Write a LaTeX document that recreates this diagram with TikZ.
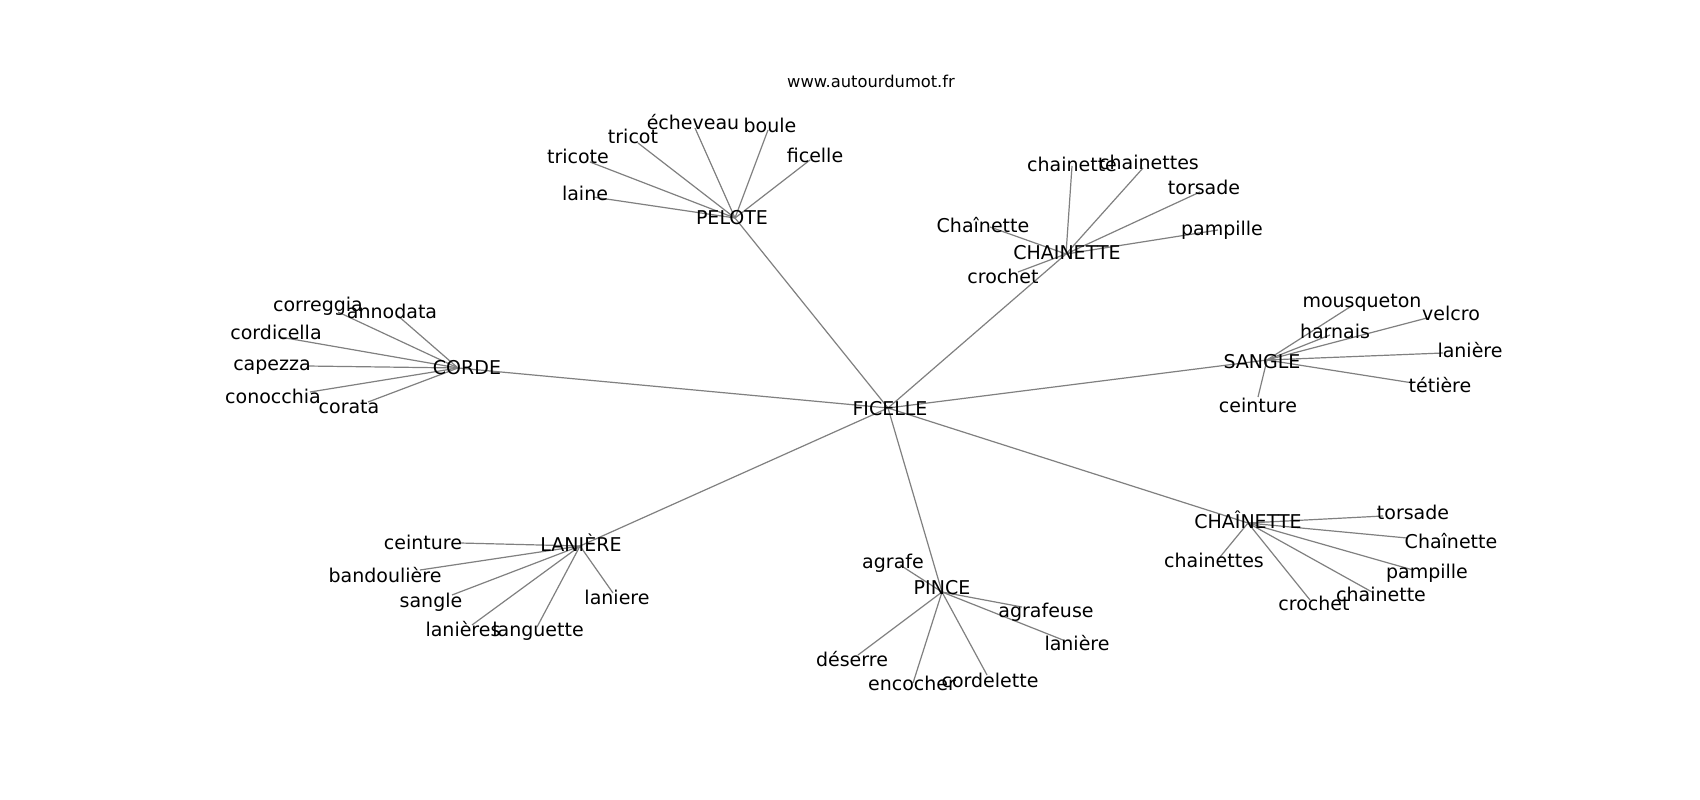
\documentclass[tikz,border=0pt]{standalone}
\usepackage{fontspec}
\setmainfont{DejaVu Sans}
\usetikzlibrary{backgrounds}
\tikzset{
  lbl/.style={font=\fontsize{19}{23}\selectfont, inner sep=0pt, anchor=base, text=black},
  ttl/.style={font=\fontsize{16.3}{20}\selectfont, inner sep=0pt, anchor=base, text=black},
  link/.style={draw=black!50, line width=1.2pt}
}
\begin{document}
\begin{tikzpicture}[x=1pt,y=-1pt]
\useasboundingbox (0,0) rectangle (1700,800);

\node[ttl] (title) at (871,88) {www.autourdumot.fr};

% hubs: line points and labels
\coordinate (cFic) at (888,408);   \node[lbl] (tFic) at (890,415) {FICELLE};
\coordinate (cPel) at (735,218);   \node[lbl] (tPel) at (732,224) {PELOTE};
\coordinate (cCha) at (1066,254);  \node[lbl] (tCha) at (1067,259) {CHAINETTE};
\coordinate (cCor) at (458,368);   \node[lbl] (tCor) at (467,374) {CORDE};
\coordinate (cSan) at (1267,360);  \node[lbl] (tSan) at (1262,368) {SANGLE};
\coordinate (cLan) at (580,546);   \node[lbl] (tLan) at (581,551) {LANIÈRE};
\coordinate (cPin) at (942,592);   \node[lbl] (tPin) at (942,594) {PINCE};
\coordinate (cChb) at (1248,523);  \node[lbl] (tChb) at (1248,528) {CHAÎNETTE};

% PELOTE leaves
\coordinate (pa) at (593,197); \node[lbl] (tpa) at (585,200) {laine};
\coordinate (pb) at (590,162); \node[lbl] (tpb) at (578,163) {tricote};
\coordinate (pc) at (638,143); \node[lbl] (tpc) at (633,143) {tricot};
\coordinate (pd) at (695,128); \node[lbl] (tpd) at (693,129) {écheveau};
\coordinate (pe) at (768,130); \node[lbl] (tpe) at (770,132) {boule};
\coordinate (pf) at (810,160); \node[lbl] (tpf) at (815,162) {ficelle};

% CHAINETTE leaves
\coordinate (ha) at (1072,166); \node[lbl] (tha) at (1072,171) {chainette};
\coordinate (hb) at (1143,168); \node[lbl] (thb) at (1149,169) {chainettes};
\coordinate (hc) at (1200,192); \node[lbl] (thc) at (1204,194) {torsade};
\coordinate (hd) at (1218,230); \node[lbl] (thd) at (1222,235) {pampille};
\coordinate (he) at (990,227);  \node[lbl] (the) at (983,232) {Chaînette};
\coordinate (hf) at (1018,272); \node[lbl] (thf) at (1003,283) {crochet};

% CORDE leaves
\coordinate (ka) at (338,312); \node[lbl] (tka) at (318,311) {correggia};
\coordinate (kb) at (397,315); \node[lbl] (tkb) at (392,318) {annodata};
\coordinate (kc) at (280,337); \node[lbl] (tkc) at (276,339) {cordicella};
\coordinate (kd) at (307,366); \node[lbl] (tkd) at (272,370) {capezza};
\coordinate (ke) at (310,392); \node[lbl] (tke) at (273,403) {conocchia};
\coordinate (kf) at (368,402); \node[lbl] (tkf) at (349,413) {corata};

% SANGLE leaves
\coordinate (sa) at (1353,305); \node[lbl] (tsa) at (1362,307) {mousqueton};
\coordinate (sb) at (1330,335); \node[lbl] (tsb) at (1335,338) {harnais};
\coordinate (sc) at (1427,318); \node[lbl] (tsc) at (1451,320) {velcro};
\coordinate (sd) at (1443,353); \node[lbl] (tsd) at (1470,357) {lanière};
\coordinate (se) at (1413,383); \node[lbl] (tse) at (1440,392) {tétière};
\coordinate (sf) at (1258,397); \node[lbl] (tsf) at (1258,412) {ceinture};

% LANIÈRE leaves
\coordinate (la) at (460,543); \node[lbl] (tla) at (423,549) {ceinture};
\coordinate (lb) at (420,570); \node[lbl] (tlb) at (385,582) {bandoulière};
\coordinate (lc) at (452,595); \node[lbl] (tlc) at (431,607) {sangle};
\coordinate (ld) at (472,625); \node[lbl] (tld) at (463,636) {lanières};
\coordinate (le) at (537,627); \node[lbl] (tle) at (538,636) {languette};
\coordinate (lf) at (613,593); \node[lbl] (tlf) at (617,604) {laniere};

% PINCE leaves
\coordinate (ia) at (900,565);  \node[lbl] (tia) at (893,568) {agrafe};
\coordinate (ib) at (1022,607); \node[lbl] (tib) at (1046,617) {agrafeuse};
\coordinate (ic) at (1063,640); \node[lbl] (tic) at (1077,650) {lanière};
\coordinate (id) at (858,655);  \node[lbl] (tid) at (852,666) {déserre};
\coordinate (ie) at (913,683);  \node[lbl] (tie) at (912,690) {encocher};
\coordinate (if) at (987,675);  \node[lbl] (tif) at (990,687) {cordelette};

% CHAÎNETTE leaves
\coordinate (ea) at (1383,516); \node[lbl] (tea) at (1413,519) {torsade};
\coordinate (eb) at (1407,538); \node[lbl] (teb) at (1451,548) {Chaînette};
\coordinate (ec) at (1413,570); \node[lbl] (tec) at (1427,578) {pampille};
\coordinate (ed) at (1372,592); \node[lbl] (ted) at (1381,601) {chainette};
\coordinate (ee) at (1310,600); \node[lbl] (tee) at (1314,610) {crochet};
\coordinate (ef) at (1220,557); \node[lbl] (tef) at (1214,567) {chainettes};

\begin{scope}[on background layer]
\fill[white] (0,0) rectangle (1700,800);
\foreach \h in {cPel,cCha,cCor,cSan,cLan,cPin,cChb} \draw[link] (cFic) -- (\h);
\foreach \l in {pa,pb,pc,pd,pe,pf} \draw[link] (cPel) -- (\l);
\foreach \l in {ha,hb,hc,hd,he,hf} \draw[link] (cCha) -- (\l);
\foreach \l in {ka,kb,kc,kd,ke,kf} \draw[link] (cCor) -- (\l);
\foreach \l in {sa,sb,sc,sd,se,sf} \draw[link] (cSan) -- (\l);
\foreach \l in {la,lb,lc,ld,le,lf} \draw[link] (cLan) -- (\l);
\foreach \l in {ia,ib,ic,id,ie,if} \draw[link] (cPin) -- (\l);
\foreach \l in {ea,eb,ec,ed,ee,ef} \draw[link] (cChb) -- (\l);
\end{scope}
\end{tikzpicture}
\end{document}
